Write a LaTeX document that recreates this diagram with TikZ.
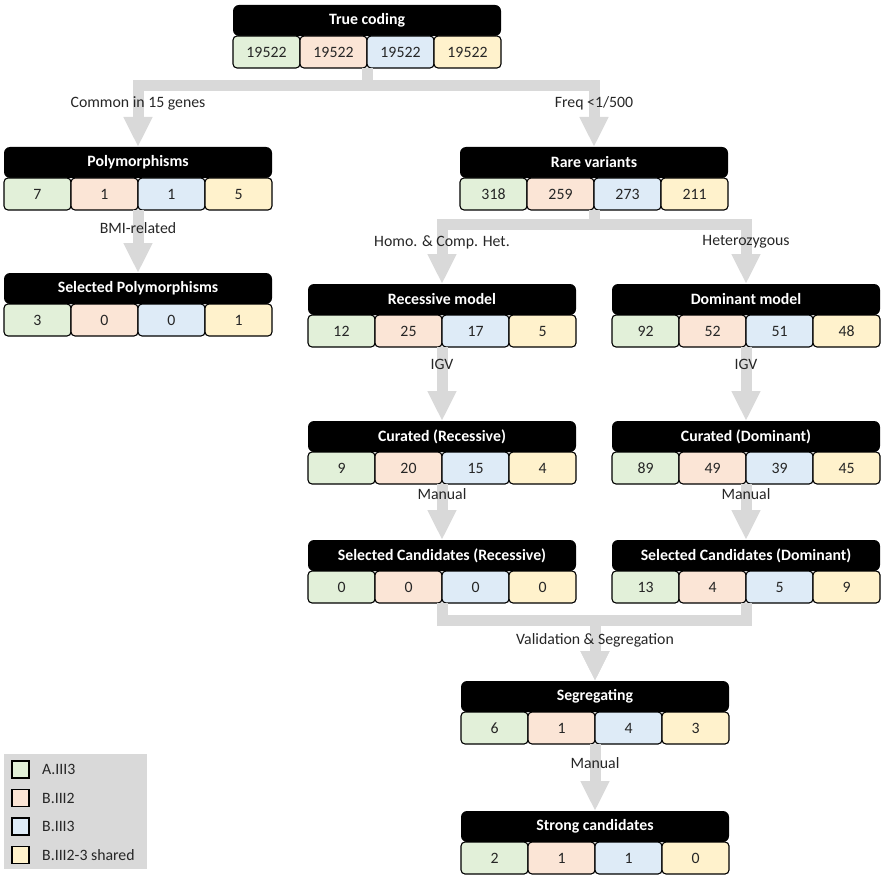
\documentclass[tikz,border=0pt]{standalone}
\usepackage{fontspec}
\setmainfont{Carlito}
\usetikzlibrary{arrows.meta,positioning}
\definecolor{Ink}{HTML}{262626}
\definecolor{Flow}{HTML}{D9D9D9}
\definecolor{CellA}{HTML}{E2F0D9}
\definecolor{CellB}{HTML}{FBE5D6}
\definecolor{CellC}{HTML}{DEEBF7}
\definecolor{CellD}{HTML}{FFF2CC}
\newcommand{\txt}{\fontsize{15.8}{18}\selectfont}
\tikzset{
  head/.style={fill=black,rounded corners=6pt,minimum width=268pt,minimum height=31pt,inner sep=0pt,outer sep=0pt,anchor=north west,text=white,font=\txt\bfseries},
  cell/.style={draw=black,line width=1.1pt,rounded corners=4pt,minimum width=67pt,minimum height=32pt,inner sep=0pt,outer sep=0pt,text=Ink,font=\txt},
  flow/.style={draw=Flow,line width=11pt,-{Triangle[length=30pt,width=27pt]}},
  lbl/.style={text=Ink,font=\txt,inner sep=0pt},
  key/.style={draw=black,line width=1.1pt,minimum size=17pt,inner sep=0pt,outer sep=0pt}
}
% one result: black title bar over four counts
\newcommand{\varblock}[7]{%
  \node[head] (#1) at #2 {#3};
  \node[cell,fill=CellA,below right=0pt and 0pt of #1.south west] (#1-1) {#4};
  \node[cell,fill=CellB,right=0pt of #1-1] (#1-2) {#5};
  \node[cell,fill=CellC,right=0pt of #1-2] (#1-3) {#6};
  \node[cell,fill=CellD,right=0pt of #1-3] (#1-4) {#7};
}

\begin{document}
\begin{tikzpicture}[x=1pt,y=-1pt]
  \useasboundingbox (0,0) rectangle (882,877);

  \varblock{tc}{(233,5)}{True coding}{19522}{19522}{19522}{19522}
  \varblock{poly}{(4,147)}{Polymorphisms}{7}{1}{1}{5}
  \varblock{rare}{(460,147)}{Rare variants}{318}{259}{273}{211}
  \varblock{selpoly}{(4,273)}{Selected Polymorphisms}{3}{0}{0}{1}
  \varblock{rec}{(308,284)}{Recessive model}{12}{25}{17}{5}
  \varblock{dom}{(612,284)}{Dominant model}{92}{52}{51}{48}
  \varblock{currec}{(308,421)}{Curated (Recessive)}{9}{20}{15}{4}
  \varblock{curdom}{(612,421)}{Curated (Dominant)}{89}{49}{39}{45}
  \varblock{selrec}{(308,540)}{Selected Candidates (Recessive)}{0}{0}{0}{0}
  \varblock{seldom}{(612,540)}{Selected Candidates (Dominant)}{13}{4}{5}{9}
  \varblock{seg}{(461,681)}{Segregating}{6}{1}{4}{3}
  \varblock{strong}{(461,811)}{Strong candidates}{2}{1}{1}{0}

  \draw[flow] (tc-2.south east) -- ++(0,18) -| (poly.north) node[lbl,pos=0.64] {Common in 15 genes};
  \draw[flow] (tc-2.south east) -- ++(0,18) -| (rare.north) node[lbl,pos=0.64] {Freq <1/500};
  \draw[flow] (poly-2.south east) -- (selpoly.north) node[lbl,pos=0.29] {BMI-related};
  \draw[flow] (rare-2.south east) -- ++(0,14) -| (rec.north) node[lbl,pos=0.65] {Homo. \& Comp. Het.};
  \draw[flow] (rare-2.south east) -- ++(0,14) -| (dom.north) node[lbl,pos=0.65] {Heterozygous};
  \draw[flow] (rec-2.south east) -- (currec.north) node[lbl,pos=0.24] {IGV};
  \draw[flow] (dom-2.south east) -- (curdom.north) node[lbl,pos=0.24] {IGV};
  \draw[flow] (currec-2.south east) -- (selrec.north) node[lbl,pos=0.18] {Manual};
  \draw[flow] (curdom-2.south east) -- (seldom.north) node[lbl,pos=0.18] {Manual};
  \draw[flow] (selrec-2.south east) -- ++(0,17) -| (seg.north);
  \draw[flow] (seldom-2.south east) -- ++(0,17) -| (seg.north) node[lbl,pos=0.67] {Validation \& Segregation};
  \draw[flow] (seg-2.south east) -- (strong.north) node[lbl,pos=0.29] {Manual};

  % legend
  \node[fill=Flow,minimum width=143pt,minimum height=115pt,inner sep=0pt,anchor=north west] (legend) at (4,754) {};
  \node[key,fill=CellA] (kA) at (20.5,769.5) {};
  \node[key,fill=CellB,below=11.5pt of kA] (kB) {};
  \node[key,fill=CellC,below=11.5pt of kB] (kC) {};
  \node[key,fill=CellD,below=11.5pt of kC] (kD) {};
  \node[lbl,right=13pt of kA] {A.III3};
  \node[lbl,right=13pt of kB] {B.III2};
  \node[lbl,right=13pt of kC] {B.III3};
  \node[lbl,right=13pt of kD] {B.III2-3 shared};
\end{tikzpicture}
\end{document}
